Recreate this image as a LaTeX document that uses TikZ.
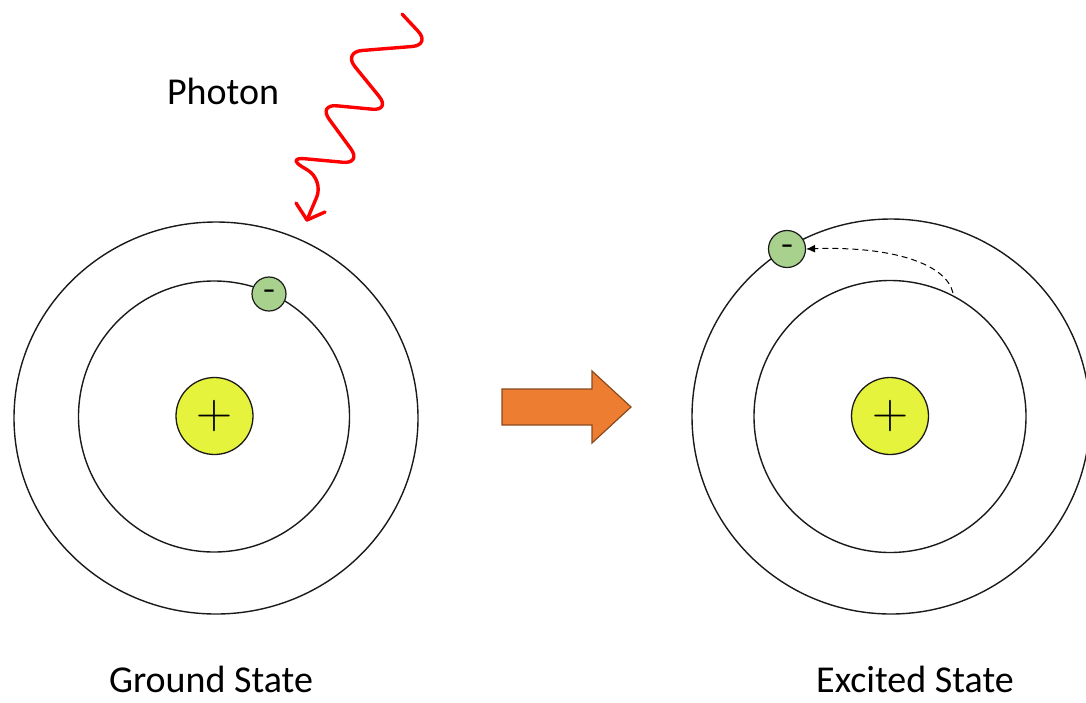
\documentclass[tikz,border=0pt]{standalone}
\usepackage{fontspec}
\setmainfont{Carlito}
\newfontfamily\lmsign{Latin Modern Roman}
\usetikzlibrary{arrows.meta}
\definecolor{nucfill}{HTML}{E6F33C}
\definecolor{elfill}{HTML}{A9D18E}
\definecolor{orangeA}{HTML}{ED7D31}
\definecolor{orangeB}{HTML}{8A4A1E}
\definecolor{orbitc}{HTML}{1A1A1A}
\begin{document}
\begin{tikzpicture}[x=1pt,y=-1pt,
  orbit/.style={draw=orbitc,line width=1.4pt},
  nucleus/.style={circle,draw=orbitc,line width=1.3pt,fill=nucfill,minimum size=77pt,inner sep=0pt,font=\lmsign\fontsize{50}{50}\selectfont},
  electron/.style={circle,draw=orbitc,line width=1.2pt,fill=elfill,minimum size=#1,inner sep=0pt,font=\bfseries\fontsize{26}{26}\selectfont},
  label/.style={anchor=base,font=\fontsize{38}{44}\selectfont,inner sep=0pt,text depth=0pt},
  photon/.style={draw=red,line width=3.4pt,rounded corners=19pt,line cap=round,line join=round},
  bigarrow/.style={fill=orangeA,draw=orangeB,line width=1.2pt,line join=miter}]
\useasboundingbox (0,0) rectangle (1086,702);
\begin{scope}
\clip (0,0) rectangle (1086,702);
% left atom
\draw[orbit] (216,418) ellipse [x radius=202, y radius=196];
\draw[orbit] (214,416.5) circle [radius=135.5];
\node[nucleus] (n1) at (214.5,416) {+};
\node[electron=34pt] (e1) at (269,294) {\textendash};
% right atom
\draw[orbit] (891,416.5) ellipse [x radius=199, y radius=197.5];
\draw[orbit] (890,416.5) circle [radius=136];
\node[nucleus] (n2) at (890,416) {+};
\node[electron=37pt] (e2) at (787,249) {\textendash};
\end{scope}
% photon
\coordinate (p0) at (402,14);
\coordinate (pt) at (307,220);
\draw[photon] (p0) -- (431,45) -- (343,52) -- (391,111) -- (318,104) -- (362,164) -- (286,157) -- (324,180) -- (pt);
\draw[draw=red,line width=3.4pt,line cap=round,line join=round] (296,203) -- (pt) -- (325,212);
\node[label] (ph) at (223,104) {Photon};
% transition arrow
\draw[bigarrow] (502,389) -- (592,389) -- (592,371) -- (631,407) -- (592,443) -- (592,425) -- (502,425) -- cycle;
% dashed jump
\coordinate (js) at (953,293);
\draw[dashed,line width=1pt,dash pattern=on 6pt off 4pt,-{Latex[length=9pt,width=8pt]}] (js) .. controls (946,263) and (890,246) .. (e2.east);
% labels
\node[label] (g) at (211,692) {Ground State};
\node[label] (x) at (915,692) {Excited State};
\end{tikzpicture}
\end{document}
